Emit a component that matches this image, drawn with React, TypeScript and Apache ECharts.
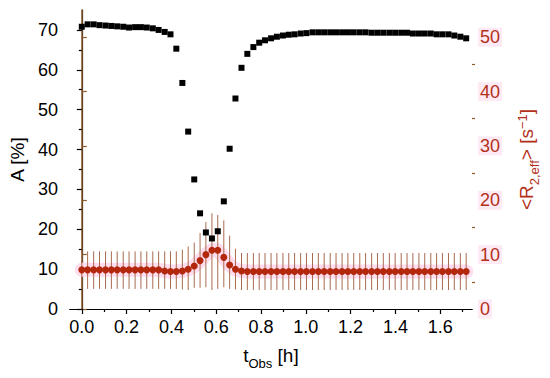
import React, { useEffect, useRef } from "react";
import * as echarts from "echarts";

// Observation time [h]
const tObs = [
  0, 0.026, 0.053, 0.079, 0.106, 0.132, 0.158, 0.185, 0.211, 0.238,
  0.264, 0.29, 0.317, 0.343, 0.37, 0.396, 0.422, 0.449, 0.475, 0.502,
  0.528, 0.554, 0.581, 0.607, 0.634, 0.66, 0.686, 0.713, 0.739, 0.766,
  0.792, 0.818, 0.845, 0.871, 0.898, 0.924, 0.95, 0.977, 1.003, 1.03,
  1.056, 1.082, 1.109, 1.135, 1.162, 1.188, 1.214, 1.241, 1.267, 1.294,
  1.32, 1.346, 1.373, 1.399, 1.426, 1.452, 1.478, 1.505, 1.531, 1.558,
  1.584, 1.61, 1.637, 1.663, 1.69, 1.716,
];

// A [%] (black squares, left axis)
const amplitude = [
  70.8, 71.4, 71.4, 71.2, 71.1, 71.0, 70.9, 70.8, 70.6, 70.7,
  70.7, 70.6, 70.4, 70.0, 69.5, 68.9, 65.3, 56.7, 44.5, 32.5,
  24.0, 19.2, 17.7, 19.5, 27.0, 40.2, 52.8, 60.5, 64.0, 65.7,
  66.8, 67.4, 67.9, 68.3, 68.6, 68.8, 68.9, 69.1, 69.2, 69.4,
  69.4, 69.4, 69.4, 69.4, 69.4, 69.4, 69.4, 69.4, 69.4, 69.3,
  69.3, 69.3, 69.3, 69.3, 69.3, 69.3, 69.1, 69.1, 69.1, 69.1,
  68.9, 68.9, 68.9, 68.6, 68.3, 67.9,
];

// <R2,eff> [s^-1] (red circles, right axis)
const r2eff = [
  7.2, 7.2, 7.2, 7.2, 7.2, 7.2, 7.2, 7.2, 7.2, 7.2,
  7.2, 7.2, 7.2, 7.2, 7.0, 6.9, 6.9, 7.0, 7.3, 7.9,
  8.9, 10.0, 10.8, 10.8, 9.5, 8.1, 7.3, 7.0, 6.9, 6.9,
  6.9, 6.9, 6.9, 6.9, 6.9, 6.9, 6.9, 6.9, 6.9, 6.9,
  6.9, 6.9, 6.9, 6.9, 6.9, 6.9, 6.9, 6.9, 6.9, 6.9,
  6.9, 6.9, 6.9, 6.9, 6.9, 6.9, 6.9, 6.9, 6.9, 6.9,
  6.9, 6.9, 6.9, 6.9, 6.9, 6.9,
];

// error bar lower / upper bounds
const r2Low = [
  3.7, 3.7, 3.7, 3.7, 3.7, 3.7, 3.7, 3.7, 3.7, 3.7,
  3.7, 3.7, 3.7, 3.7, 3.7, 3.7, 3.7, 3.6, 3.5, 3.9,
  3.9, 4.0, 3.5, 3.7, 4.0, 3.7, 3.6, 3.5, 3.5, 3.5,
  3.5, 3.5, 3.5, 3.5, 3.5, 3.5, 3.5, 3.5, 3.5, 3.5,
  3.5, 3.5, 3.5, 3.5, 3.5, 3.5, 3.5, 3.5, 3.5, 3.5,
  3.5, 3.5, 3.5, 3.5, 3.5, 3.5, 3.5, 3.5, 3.5, 3.5,
  3.5, 3.5, 3.5, 3.5, 3.5, 3.5,
];
const r2High = [
  10.6, 10.6, 10.6, 10.6, 10.6, 10.6, 10.6, 10.6, 10.6, 10.6,
  10.6, 10.6, 10.6, 10.6, 10.6, 10.6, 10.6, 10.9, 11.5, 12.2,
  14.0, 16.0, 17.6, 17.3, 16.3, 13.5, 11.1, 10.3, 10.3, 10.3,
  10.3, 10.3, 10.3, 10.3, 10.3, 10.3, 10.3, 10.3, 10.3, 10.3,
  10.3, 10.3, 10.3, 10.3, 10.3, 10.3, 10.3, 10.3, 10.3, 10.3,
  10.3, 10.3, 10.3, 10.3, 10.3, 10.3, 10.3, 10.3, 10.3, 10.3,
  10.3, 10.3, 10.3, 10.3, 10.3, 10.3,
];

const xMajor = [0, 0.2, 0.4, 0.6, 0.8, 1.0, 1.2, 1.4, 1.6];
const xMinor = [0.1, 0.3, 0.5, 0.7, 0.9, 1.1, 1.3, 1.5, 1.7];
const leftMajor = [0, 10, 20, 30, 40, 50, 60, 70];
const leftMinor = [5, 15, 25, 35, 45, 55, 65];
const rightMajor = [0, 10, 20, 30, 40, 50];
const rightMinor = [5, 15, 25, 35, 45];

const FONT = "Arial, 'Liberation Sans', sans-serif";
const BROWN = "#8b5a2b";
const RED_TEXT = "#b3301a";

export default function App() {
  const ref = useRef<HTMLDivElement>(null);
  useEffect(() => {
    const chart = echarts.init(ref.current as HTMLDivElement, null, { renderer: "svg" });
    const hidden = { show: false };
    chart.setOption({
      animation: false,
      backgroundColor: "#ffffff",
      grid: { left: 68, right: 78, top: 10, bottom: 69 },
      xAxis: [
        {
          type: "value", min: -0.053, max: 1.742, position: "bottom",
          axisLine: { show: true, lineStyle: { color: "#000", width: 1.2 } },
          axisTick: { show: true, length: 5, customValues: xMajor, lineStyle: { color: "#000", width: 1.2 } },
          axisLabel: {
            customValues: xMajor, formatter: (v: number) => v.toFixed(1),
            fontSize: 18, color: "#000", margin: 9, fontFamily: FONT,
          },
          splitLine: hidden,
          name: "{a|t}{sub|Obs}{a| [h]}", nameLocation: "middle", nameGap: 34,
          nameTextStyle: {
            fontFamily: FONT, color: "#000",
            rich: {
              a: { fontSize: 19, lineHeight: 24, fontFamily: FONT, color: "#000" },
              sub: { fontSize: 13, lineHeight: 13, verticalAlign: "top", padding: [14, 0, 0, 0], fontFamily: FONT, color: "#000" },
            },
          },
        },
        {
          type: "value", min: -0.053, max: 1.742, position: "bottom",
          axisLine: hidden,
          axisTick: { show: true, length: 3, customValues: xMinor, lineStyle: { color: "#000", width: 1.2 } },
          axisLabel: hidden, splitLine: hidden,
        },
        {
          type: "value", min: -0.053, max: 1.742, position: "top",
          axisLine: { show: true, lineStyle: { color: "#000", width: 1.2 } },
          axisTick: hidden, axisLabel: hidden, splitLine: hidden,
        },
      ],
      yAxis: [
        {
          type: "value", min: 0, max: 75, position: "left",
          axisLine: { show: true, lineStyle: { color: "#000", width: 1.2 } },
          axisTick: { show: true, length: 5, customValues: leftMajor, lineStyle: { color: "#000", width: 1.2 } },
          axisLabel: { customValues: leftMajor, fontSize: 18, color: "#000", margin: 12, fontFamily: FONT },
          splitLine: hidden,
          name: "A [%]", nameLocation: "middle", nameGap: 37,
          nameTextStyle: { fontSize: 19, fontFamily: FONT, color: "#000" },
        },
        {
          type: "value", min: 0, max: 55, position: "right",
          axisLine: { show: true, lineStyle: { color: BROWN, width: 1.5 } },
          axisTick: { show: true, length: 5, customValues: rightMajor, lineStyle: { color: BROWN, width: 1.2 } },
          axisLabel: {
            customValues: rightMajor, fontSize: 18, color: RED_TEXT, margin: 6, fontFamily: FONT,
            backgroundColor: "#fdeaf4", padding: [1, 2, 0, 2],
          },
          splitLine: hidden,
          name: "{a|<R}{sub|2,eff}{a|> [s}{sup|−1}{a|]}", nameLocation: "middle", nameGap: 42, nameRotate: 90,
          nameTextStyle: {
            fontFamily: FONT, color: RED_TEXT,
            rich: {
              a: { fontSize: 19, lineHeight: 24, fontFamily: FONT, color: RED_TEXT },
              sub: { fontSize: 13, lineHeight: 13, verticalAlign: "top", padding: [14, 0, 0, 0], fontFamily: FONT, color: RED_TEXT },
              sup: { fontSize: 13, lineHeight: 13, verticalAlign: "top", padding: [2, 0, 0, 0], fontFamily: FONT, color: RED_TEXT },
            },
          },
        },
        {
          type: "value", min: 0, max: 75, position: "left",
          axisLine: hidden,
          axisTick: { show: true, length: 3, customValues: leftMinor, lineStyle: { color: "#000", width: 1.2 } },
          axisLabel: hidden, splitLine: hidden,
        },
        {
          type: "value", min: 0, max: 55, position: "right",
          axisLine: hidden,
          axisTick: { show: true, length: 3, customValues: rightMinor, lineStyle: { color: BROWN, width: 1.2 } },
          axisLabel: hidden, splitLine: hidden,
        },
      ],
      series: [
        {
          type: "line", xAxisIndex: 0, yAxisIndex: 1, z: 1,
          data: tObs.map((t, i) => [t, r2eff[i]]),
          symbol: "none", silent: true,
          lineStyle: { color: "#ffdcee", width: 14, cap: "round", join: "round" },
        },
        {
          type: "custom", xAxisIndex: 0, yAxisIndex: 1, z: 2,
          data: tObs.map((t, i) => [t, r2Low[i], r2High[i]]),
          encode: { x: 0, y: [1, 2] },
          renderItem: (_params: any, api: any) => {
            const p1 = api.coord([api.value(0), api.value(1)]);
            const p2 = api.coord([api.value(0), api.value(2)]);
            return {
              type: "line",
              shape: { x1: p1[0], y1: p1[1], x2: p2[0], y2: p2[1] },
              style: { stroke: "#a86a4e", lineWidth: 1 },
            };
          },
        },
        {
          type: "scatter", xAxisIndex: 0, yAxisIndex: 1, z: 3,
          data: tObs.map((t, i) => [t, r2eff[i]]),
          symbol: "circle", symbolSize: 7,
          itemStyle: { color: "#b3280c", opacity: 1 },
        },
        {
          type: "scatter", xAxisIndex: 0, yAxisIndex: 0, z: 4,
          data: tObs.map((t, i) => [t, amplitude[i]]),
          symbol: "rect", symbolSize: 6,
          itemStyle: { color: "#000000", opacity: 1 },
        },
      ],
    });
    return () => chart.dispose();
  }, []);
  return (
    <div
      ref={ref}
      style={{ position: "fixed", left: 0, top: 0, width: 550, height: 378, background: "#fff" }}
    />
  );
}
